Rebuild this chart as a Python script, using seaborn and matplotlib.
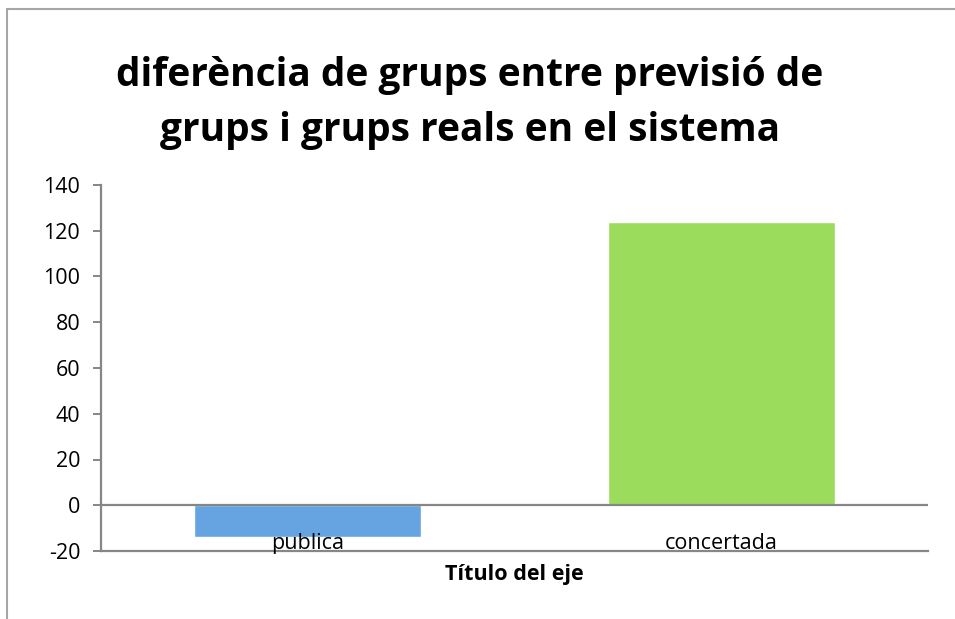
import matplotlib
matplotlib.use("Agg")
import matplotlib.pyplot as plt
import matplotlib.patches as mpatches
import pandas as pd
import seaborn as sns

# data
categories = ["publica", "concertada"]
values = [-14, 124]
bar_colors = ["#65A4E0", "#9BDC5C"]
title_text = "diferència de grups entre previsió de\ngrups i grups reals en el sistema"
xlabel_text = "Título del eje"
y_ticks = [-20, 0, 20, 40, 60, 80, 100, 120, 140]

sns.set_theme(style="white")
plt.rcParams["font.family"] = ["Open Sans", "DejaVu Sans"]
plt.rcParams["text.color"] = "black"
plt.rcParams["axes.unicode_minus"] = False

df = pd.DataFrame({"categoria": categories, "valor": values})

fig = plt.figure(figsize=(9.55, 6.19), dpi=100)
ax = fig.add_axes([101 / 955, 1 - 551 / 619, (928 - 101) / 955, (551 - 185) / 619])

sns.barplot(
    data=df, x="categoria", y="valor", hue="categoria",
    palette=bar_colors, width=0.55, legend=False, saturation=1, ax=ax,
)
for bar in ax.patches:
    bar.set_zorder(1)
ax.xaxis.set_zorder(5)

axis_grey = "#868686"
ax.set_ylim(y_ticks[0], y_ticks[-1])
ax.set_yticks(y_ticks)
ax.axhline(0, color=axis_grey, linewidth=1.6, zorder=3)
for side in ["top", "right"]:
    ax.spines[side].set_visible(False)
for side in ["left", "bottom"]:
    ax.spines[side].set_color(axis_grey)
    ax.spines[side].set_linewidth(1.6)

ax.tick_params(axis="y", left=True, length=6, width=1.4, color=axis_grey,
               pad=9, labelsize=15.5, labelcolor="black")
ax.tick_params(axis="x", bottom=False, length=0, pad=-13, labelsize=15.5,
               labelcolor="black")
ax.set_ylabel("")
ax.set_xlabel(xlabel_text, fontsize=15.5, fontweight="bold", labelpad=7,
              color="black")

fig.text(470 / 955, 1 - 103 / 619, title_text, ha="center", va="center",
         fontsize=28, fontweight="bold", linespacing=1.55, color="black")

# chart frame (top and left edges visible in the reference)
fig.add_artist(mpatches.Rectangle(
    (7 / 955, -0.1), 1.1, 1 - 9 / 619 + 0.1, transform=fig.transFigure,
    fill=False, edgecolor="#A6A6A6", linewidth=1.5,
))

fig.savefig("out.png", dpi=100)
